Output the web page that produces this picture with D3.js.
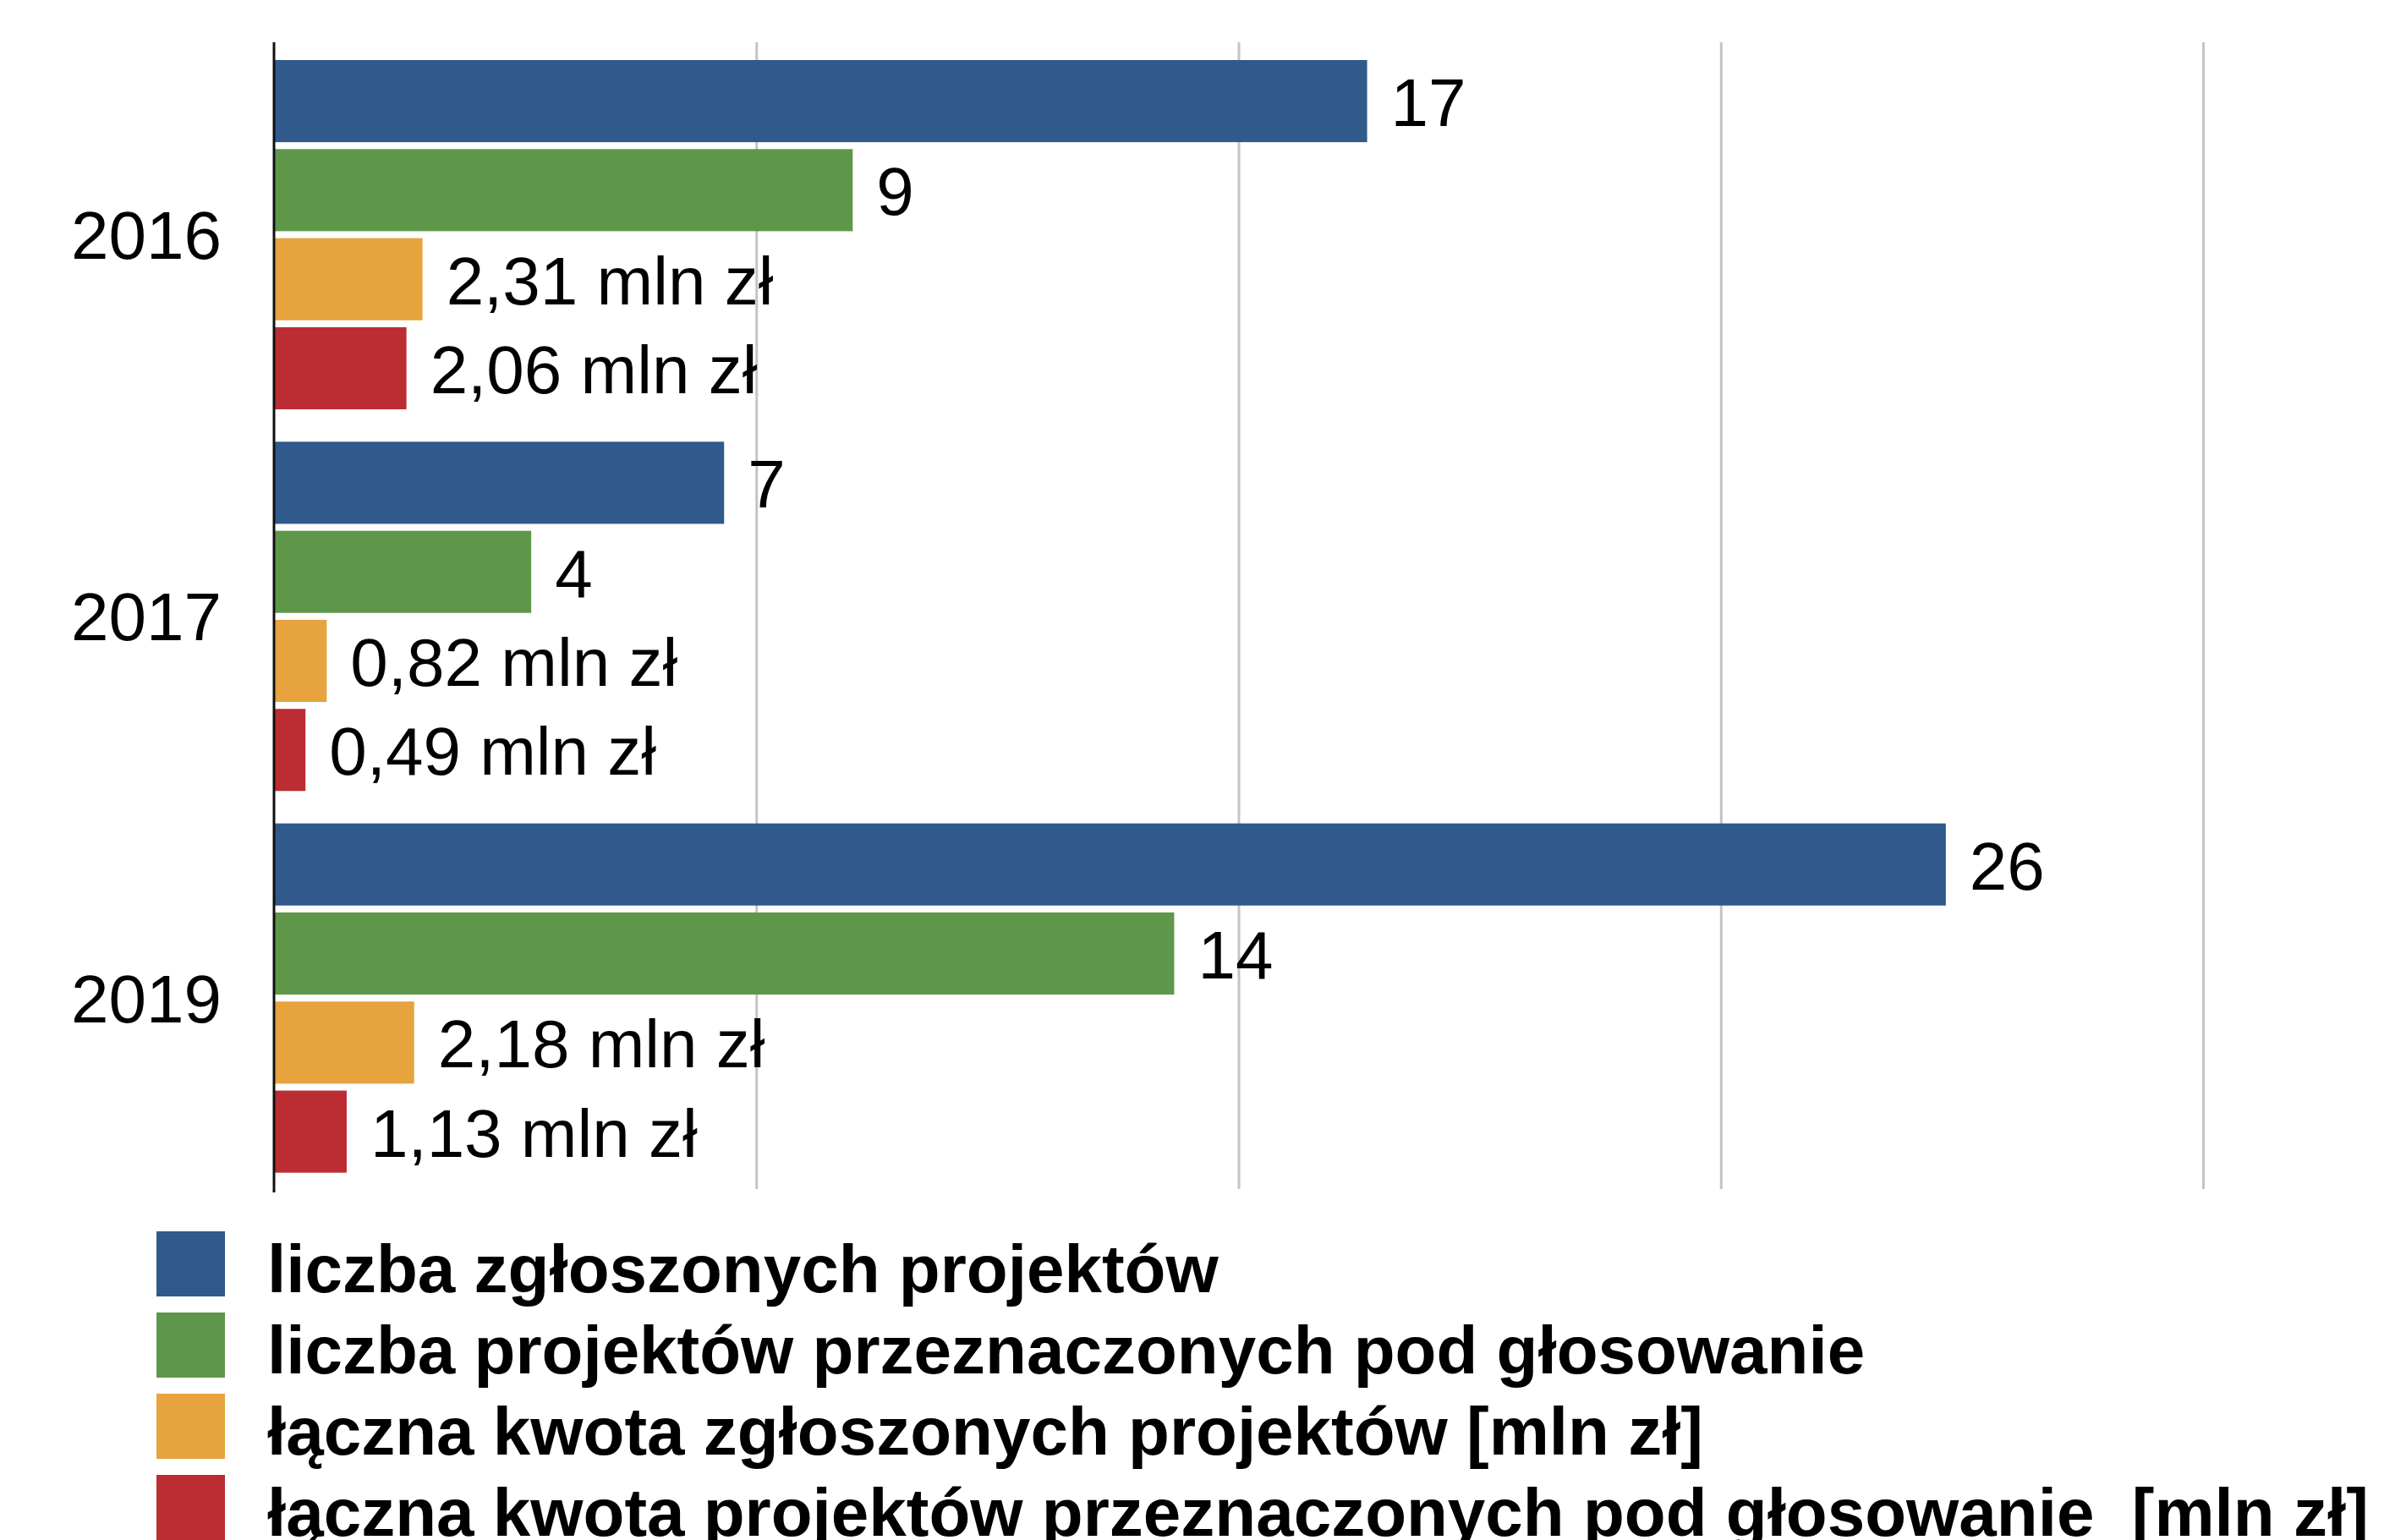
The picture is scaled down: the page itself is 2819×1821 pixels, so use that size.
<!DOCTYPE html>
<html>
<head>
<meta charset="utf-8">
<script src="https://cdn.jsdelivr.net/npm/d3@7"></script>
<style>
  body { margin: 0; background: #fff; }
  text { font-family: "Liberation Sans", Arial, Helvetica, sans-serif; }
</style>
</head>
<body>
<svg id="chart" width="2819" height="1821"></svg>
<script>
// data
var years = ['2016', '2017', '2019'];
var zgloszone = [17, 7, 26];          // liczba zgłoszonych projektów
var doGlosowania = [9, 4, 14];        // liczba projektów przeznaczonych pod głosowanie
var kwotaZgloszonych = [2.31, 0.82, 2.18];  // mln zł
var kwotaGlosowanie = [2.06, 0.49, 1.13];   // mln zł
var seriesNames = [
    'liczba zgłoszonych projektów',
    'liczba projektów przeznaczonych pod głosowanie',
    'łączna kwota zgłoszonych projektów [mln zł]',
    'łączna kwota projektów przeznaczonych pod głosowanie  [mln zł]'
];
var gridTicks = [7.5, 15, 22.5, 30];

var colours = ['#2f5a8b', '#5e974a', '#e6a33e', '#bb2d32'];
var seriesValues = [zgloszone, doGlosowania, kwotaZgloszonych, kwotaGlosowanie];
var isMoney = [false, false, true, true];

var pl = d3.formatLocale({decimal: ',', thousands: ' ', grouping: [3], currency: ['', ' zł']});
var fmtMoney = pl.format('.2f');

var svg = d3.select('#chart');

var x = d3.scaleLinear().domain([0, 30]).range([324, 2605]);
var y = d3.scaleBand().domain(years).range([50, 1404]).paddingInner(0).paddingOuter(0);
var ySub = d3.scaleBand().domain(d3.range(seriesNames.length))
    .range([21, 434]).paddingInner(0.078);

// vertical grid lines
svg.append('g')
    .attr('transform', 'translate(0,1406)')
    .call(d3.axisBottom(x).tickValues(gridTicks).tickSize(-1356).tickFormat(''))
    .call(function(g) { g.select('.domain').remove(); })
    .selectAll('line')
        .attr('stroke', '#c4c4c4')
        .attr('stroke-width', 3);

// flatten to one record per bar
var bars = [];
years.forEach(function(yr, i) {
    seriesValues.forEach(function(vals, s) {
        bars.push({year: yr, s: s, value: vals[i]});
    });
});

svg.append('g').selectAll('rect')
    .data(bars)
    .enter().append('rect')
        .attr('x', x(0))
        .attr('y', function(d) { return y(d.year) + ySub(d.s); })
        .attr('width', function(d) { return x(d.value) - x(0); })
        .attr('height', ySub.bandwidth())
        .attr('fill', function(d) { return colours[d.s]; });

svg.append('g').selectAll('text')
    .data(bars)
    .enter().append('text')
        .attr('x', function(d) { return x(d.value) + 28; })
        .attr('y', function(d) { return y(d.year) + ySub(d.s) + ySub.bandwidth() / 2; })
        .attr('dy', '0.37em')
        .attr('font-size', 80)
        .attr('fill', '#000')
        .text(function(d) { return isMoney[d.s] ? fmtMoney(d.value) + ' mln zł' : d.value; });

// category axis (left)
var yAxis = svg.append('g')
    .attr('transform', 'translate(' + x(0) + ',0)')
    .call(d3.axisLeft(y).tickSize(0).tickPadding(62));
yAxis.select('.domain')
    .attr('stroke', '#111')
    .attr('stroke-width', 3)
    .attr('d', 'M0,50V1410');
yAxis.selectAll('text')
    .attr('font-size', 80)
    .attr('fill', '#000')
    .attr('dy', '0.38em')
    .style('font-family', '"Liberation Sans", Arial, sans-serif');

// legend
var legend = svg.append('g').selectAll('g')
    .data(seriesNames)
    .enter().append('g')
        .attr('transform', function(d, i) { return 'translate(185,' + (1456 + i * 96) + ')'; });

legend.append('rect')
    .attr('width', 81)
    .attr('height', 77)
    .attr('fill', function(d, i) { return colours[i]; });

legend.append('text')
    .attr('x', 131)
    .attr('y', 72)
    .attr('font-size', 80)
    .attr('font-weight', 'bold')
    .attr('fill', '#000')
    .style('white-space', 'pre')
    .text(function(d) { return d; });
</script>
</body>
</html>
